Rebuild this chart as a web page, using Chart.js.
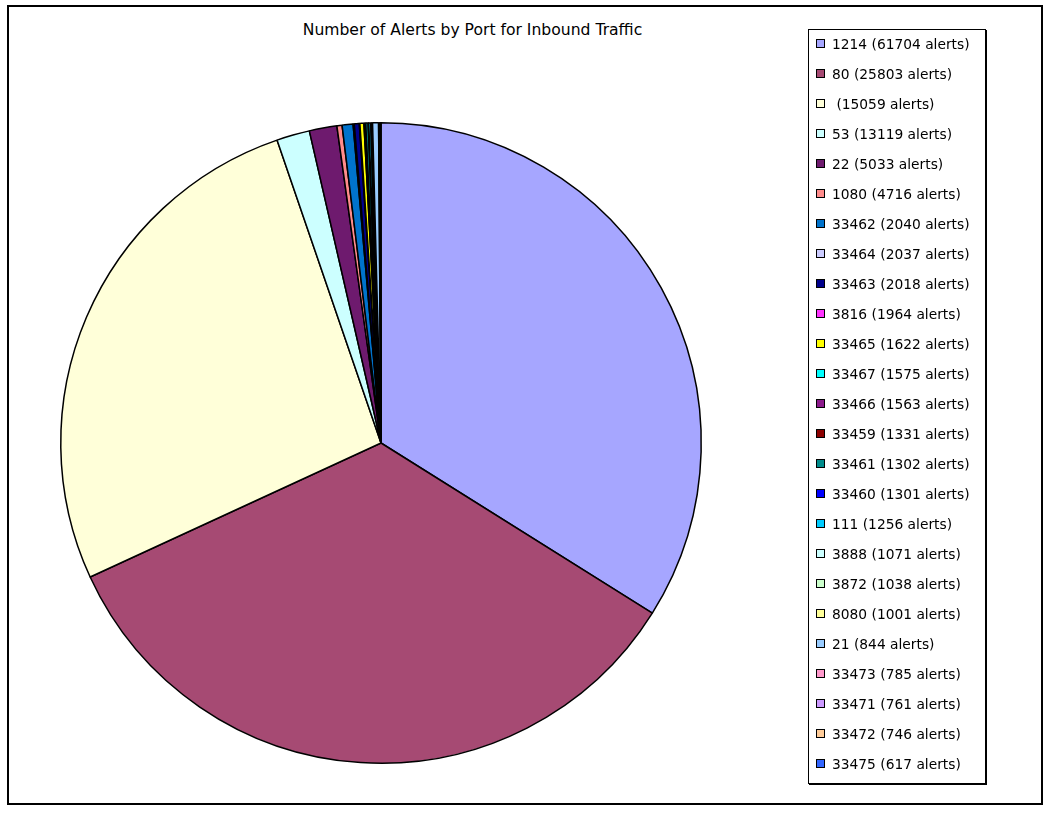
<!DOCTYPE html>
<html>
<head>
<meta charset="utf-8">
<script src="https://cdn.jsdelivr.net/npm/chart.js@4"></script>
<style>
  body { margin: 0; background: #fff; font-family: "DejaVu Sans", sans-serif; }
  #frame { position: absolute; left: 7px; top: 5px; width: 1032px; height: 796px; border: 2px solid #000; }
  #title { position: absolute; left: 0; width: 945px; top: 21px; text-align: center; font-size: 15.6px; color: #000; }
  #mycanvas { position: absolute; left: 0; top: 0; }
  #legend { position: absolute; left: 808px; top: 29px; width: 176px; height: 753px; border: 1px solid #000; box-shadow: 1px 1px 0 #000; background: #fff; }
  .item { position: absolute; left: 7px; height: 18px; font-size: 13.8px; line-height: 18px; white-space: pre; color: #000; }
  .box { display: inline-block; width: 7px; height: 7px; border: 1px solid #000; margin-right: 7px; vertical-align: 1px; }
</style>
</head>
<body>
<div id="frame"></div>
<div id="title">Number of Alerts by Port for Inbound Traffic</div>
<canvas id="mycanvas" width="1046" height="813"></canvas>
<div id="legend"></div>
<script>
var ports = ["1214", "80", "", "53", "22", "1080", "33462", "33464", "33463", "3816", "33465", "33467", "33466", "33459", "33461", "33460", "111", "3888", "3872", "8080", "21", "33473", "33471", "33472", "33475"];
var alertCounts = [61704, 25803, 15059, 13119, 5033, 4716, 2040, 2037, 2018, 1964, 1622, 1575, 1563, 1331, 1302, 1301, 1256, 1071, 1038, 1001, 844, 785, 761, 746, 617];
// slice sizes as drawn in the picture (per mille of the pie)
var sliceShares = [339, 342, 266, 16.7, 13.9, 2.6, 5.5, 0.6, 2.5, 0.3, 2.0, 0.3, 0.3, 0.3, 1.2, 0.3, 1.0, 0.3, 0.3, 0.3, 3.0, 0.3, 0.3, 0.3, 0.3];
var colors = ["#a6a6ff", "#a64a73", "#ffffd9", "#ccffff", "#6e1a6e", "#ff8c8c", "#0073cc", "#ccccff", "#00008c", "#ff33ff", "#ffff00", "#00ffff", "#8c1a8c", "#8c0000", "#008c8c", "#0000ff", "#00ccff", "#ccffff", "#ccffcc", "#ffff99", "#99ccff", "#ff99cc", "#cc99ff", "#ffcc99", "#3366ff"];

var labels = [];
for (var i in ports) {
	labels.push(ports[i] + " (" + alertCounts[i] + " alerts)");
}

var legend = document.getElementById("legend");
for (var i in labels) {
	var row = document.createElement("div");
	row.className = "item";
	row.style.top = (5 + i * 30) + "px";
	var sw = document.createElement("span");
	sw.className = "box";
	sw.style.background = colors[i];
	row.appendChild(sw);
	row.appendChild(document.createTextNode(labels[i]));
	legend.appendChild(row);
}

var ctx = document.getElementById("mycanvas");
var pieChart = new Chart(ctx, {
	type: "pie",
	data: {
		labels: labels,
		datasets: [
			{
				data: sliceShares,
				backgroundColor: colors,
				borderColor: "#000",
				borderWidth: 1.5
			}
		]
	},
	options: {
		responsive: false,
		animation: false,
		layout: { padding: { left: 60, right: 344, top: 122, bottom: 49 } },
		plugins: {
			legend: { display: false },
			tooltip: { enabled: false }
		}
	}
});
</script>
</body>
</html>
